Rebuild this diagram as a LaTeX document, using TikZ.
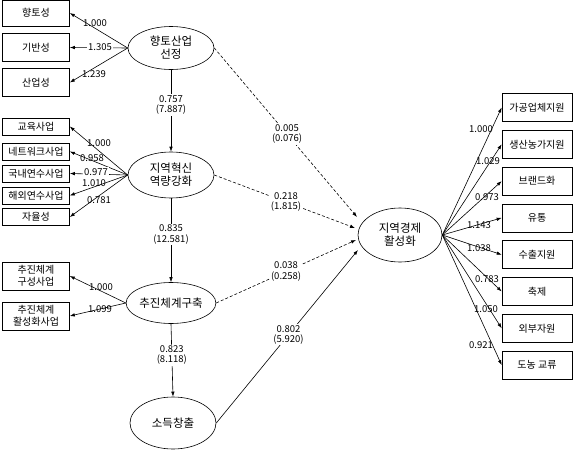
\documentclass[tikz,border=0pt]{standalone}
\usepackage{fontspec}
\setmainfont{Noto Sans CJK KR}
\usetikzlibrary{arrows.meta,shapes.geometric}

\begin{document}
\begin{tikzpicture}[x=1pt,y=-1pt,font=\fontsize{9.5}{11}\selectfont,
 line width=0.6pt,>={Latex[length=5pt,width=3.5pt]},
 ind/.style={draw,minimum width=67pt,minimum height=28pt,inner sep=1pt,align=center,font=\fontsize{10}{11.5}\selectfont},
 sind/.style={draw,minimum width=67pt,minimum height=17pt,inner sep=1pt,font=\fontsize{10}{11.5}\selectfont},
 rind/.style={draw,minimum width=70pt,minimum height=28pt,inner sep=1pt,font=\fontsize{10}{11.5}\selectfont},
 lat/.style={draw,ellipse,minimum width=86pt,inner sep=0pt,align=center,font=\fontsize{11.5}{13}\selectfont},
 coef/.style={inner sep=1pt},
 est/.style={fill=white,inner sep=1pt,align=center,font=\fontsize{9.5}{10.5}\selectfont},
 weak/.style={dash pattern=on 3pt off 2pt}]
\useasboundingbox (0,0) rectangle (574,453);
% latent variables
\node[lat,minimum height=43pt] (hyang) at (171,48) {향토산업\\선정};
\node[lat,minimum height=46pt] (hyeok) at (171,175) {지역혁신\\역량강화};
\node[lat,minimum height=41pt] (chujin) at (171,303) {추진체계구축};
\node[lat,minimum height=52pt] (sodeuk) at (173,423) {소득창출};
\node[lat,minimum width=84pt,minimum height=54pt] (gyeongje) at (400,235) {지역경제\\활성화};
% indicators, left
\node[ind,minimum height=26pt] (h1) at (36,13) {향토성};
\node[ind] (h2) at (36,47.5) {기반성};
\node[ind] (h3) at (36,82.5) {산업성};
\node[sind] (i1) at (36,126.5) {교육사업};
\node[sind] (i2) at (36,151.5) {네트워크사업};
\node[sind] (i3) at (36,173.5) {국내연수사업};
\node[sind] (i4) at (36,195.5) {해외연수사업};
\node[sind] (i5) at (36,217) {자율성};
\node[ind] (c1) at (36,276) {추진체계\\구성사업};
\node[ind] (c2) at (36,316) {추진체계\\활성화사업};
% indicators, right
\node[rind] (g1) at (537,107.5) {가공업체지원};
\node[rind] (g2) at (537,144.3) {생산농가지원};
\node[rind] (g3) at (537,181.1) {브랜드화};
\node[rind] (g4) at (537,217.9) {유통};
\node[rind] (g5) at (537,254.7) {수출지원};
\node[rind] (g6) at (537,291.5) {축제};
\node[rind] (g7) at (537,328.3) {외부자원};
\node[rind] (g8) at (537,365.1) {도농 교류};
% loadings
\draw[->] (hyang.west) -- (h1.east);
\draw[->] (hyang.west) -- (h2.east);
\draw[->] (hyang.west) -- (h3.east);
\draw[->] (hyeok.west) -- (i1.east);
\draw[->] (hyeok.west) -- (i2.east);
\draw[->] (hyeok.west) -- (i3.east);
\draw[->] (hyeok.west) -- (i4.east);
\draw[->] (hyeok.west) -- (i5.east);
\draw[->] (chujin.west) -- (c1.east);
\draw[->] (chujin.west) -- (c2.east);
\foreach \g in {g1,g2,g3,g4,g5,g6,g7,g8}
  \draw[->] (gyeongje.east) -- (\g.west);
\node[coef] (l1) at (95,23) {1.000};
\node[coef,fill=white] (l2) at (100,47) {1.305};
\node[coef] (l3) at (94,74) {1.239};
\node[coef] (l4) at (99,143) {1.000};
\node[coef] (l5) at (92,158) {0.958};
\node[coef,fill=white] (l6) at (96,172) {0.977};
\node[coef] (l7) at (94,183) {1.010};
\node[coef] (l8) at (99,200) {0.781};
\node[coef] (l9) at (101,287) {1.000};
\node[coef] (l10) at (100,309) {1.099};
\node[coef] (r1) at (481,129) {1.000};
\node[coef] (r2) at (488,161) {1.029};
\node[coef] (r3) at (487,197) {0.973};
\node[coef] (r4) at (479,225) {1.143};
\node[coef] (r5) at (479,248) {1.038};
\node[coef] (r6) at (487,279) {0.783};
\node[coef] (r7) at (486,309) {1.050};
\node[coef] (r8) at (481,345) {0.921};
% structural paths
\draw[->] (hyang.south) -- (hyeok.north) node[est,pos=0.43] {0.757\\(7.887)};
\draw[->] (hyeok.south) -- (chujin.north) node[est,pos=0.43] {0.835\\(12.581)};
\draw[->] (chujin.south) -- (sodeuk.north) node[est,pos=0.43] {0.823\\(8.118)};
\coordinate (t1) at (357,217);
\coordinate (t2) at (355,228);
\coordinate (t3) at (356,240);
\coordinate (t4) at (358,250);
\draw[->,weak] (hyang.east) -- (t1) node[est,pos=0.51] {0.005\\(0.076)};
\draw[->,weak] (hyeok.east) -- (t2) node[est,pos=0.51] {0.218\\(1.815)};
\draw[->,weak] (chujin.east) -- (t3) node[est,pos=0.50] {0.038\\(0.258)};
\draw[->] (sodeuk.east) -- (t4) node[est,pos=0.51] {0.802\\(5.920)};
\end{tikzpicture}
\end{document}
